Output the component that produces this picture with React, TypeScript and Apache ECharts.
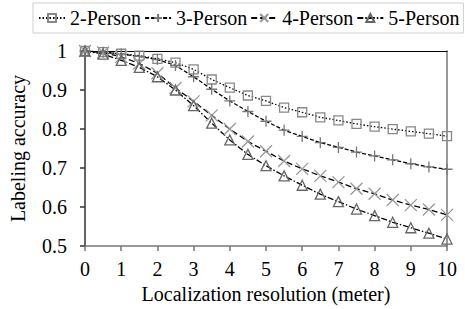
import React, { useEffect, useRef } from "react";
import * as echarts from "echarts";

const xValues = [0, 0.5, 1, 1.5, 2, 2.5, 3, 3.5, 4, 4.5, 5, 5.5, 6, 6.5, 7, 7.5, 8, 8.5, 9, 9.5, 10];
const person2 = [1.0, 0.997, 0.993, 0.988, 0.98, 0.97, 0.953, 0.927, 0.906, 0.886, 0.872, 0.855, 0.843, 0.83, 0.822, 0.813, 0.806, 0.8, 0.794, 0.788, 0.782];
const person3 = [1.0, 0.997, 0.992, 0.986, 0.978, 0.963, 0.934, 0.902, 0.872, 0.845, 0.82, 0.797, 0.781, 0.765, 0.753, 0.741, 0.731, 0.721, 0.711, 0.703, 0.697];
const person4 = [1.0, 0.996, 0.985, 0.968, 0.943, 0.905, 0.871, 0.835, 0.8, 0.768, 0.743, 0.718, 0.698, 0.68, 0.664, 0.647, 0.634, 0.618, 0.605, 0.594, 0.58];
const person5 = [1.0, 0.992, 0.976, 0.958, 0.934, 0.9, 0.86, 0.815, 0.772, 0.735, 0.706, 0.68, 0.656, 0.633, 0.614, 0.595, 0.578, 0.561, 0.547, 0.533, 0.518];
const seriesNames = ["2-Person", "3-Person", "4-Person", "5-Person"];

const FONT = "'Liberation Serif', 'Times New Roman', serif";

export default function App() {
  const ref = useRef<HTMLDivElement>(null);
  useEffect(() => {
    if (!ref.current) return;
    const chart = echarts.init(ref.current, undefined, { renderer: "svg" });
    const mk = (name: string, vals: number[], symbol: string, size: number, dash: number[], mcolor: string) => ({
      name,
      type: "line",
      data: xValues.map((x, i) => [x, vals[i]]),
      symbol,
      symbolSize: size,
      showAllSymbol: true,
      lineStyle: { color: "#000", width: 1.3, type: dash },
      itemStyle: { color: "rgba(0,0,0,0)", borderColor: mcolor, borderWidth: 1.3 },
      z: 3,
    });
    chart.setOption({
      animation: false,
      textStyle: { fontFamily: FONT },
      legend: {
        left: 33,
        top: 3,
        width: 480,
        padding: [5, 4, 5, 5],
        borderColor: "#cfcfcf",
        borderWidth: 1,
        itemWidth: 26,
        itemHeight: 10,
        itemGap: 3,
        textStyle: { fontFamily: FONT, fontSize: 20, color: "#000" },
        data: seriesNames,
      },
      grid: { left: 81, right: 18, top: 51, bottom: 62 },
      xAxis: [
        {
          type: "value",
          min: 0,
          max: 10,
          interval: 1,
          name: "Localization resolution (meter)",
          nameLocation: "middle",
          nameGap: 37,
          nameTextStyle: { fontFamily: FONT, fontSize: 20, color: "#000" },
          axisLine: { show: true, lineStyle: { color: "#777", width: 1.5 } },
          axisTick: { show: true, length: 5, lineStyle: { color: "#777", width: 1.5 } },
          axisLabel: { fontFamily: FONT, fontSize: 20, color: "#000", margin: 13 },
          splitLine: { show: false },
        },
        {
          type: "value",
          position: "top",
          min: 0,
          max: 10,
          axisLine: { show: true, onZero: false, lineStyle: { color: "#000", width: 1.2 } },
          axisTick: { show: false },
          axisLabel: { show: false },
          splitLine: { show: false },
        },
      ],
      yAxis: [
        {
          type: "value",
          min: 0.5,
          max: 1,
          interval: 0.1,
          name: "Labeling accuracy",
          nameLocation: "middle",
          nameGap: 57,
          nameTextStyle: { fontFamily: FONT, fontSize: 20, color: "#000" },
          axisLine: { show: true, lineStyle: { color: "#333", width: 1.5 } },
          axisTick: { show: true, length: 5, lineStyle: { color: "#333", width: 1.5 } },
          axisLabel: {
            fontFamily: FONT,
            fontSize: 20,
            color: "#000",
            margin: 18,
            formatter: (v: number) => (Math.abs(v - 1) < 1e-9 ? "1" : v.toFixed(1)),
          },
          splitLine: { show: false },
        },
        {
          type: "value",
          position: "right",
          min: 0.5,
          max: 1,
          axisLine: { show: true, onZero: false, lineStyle: { color: "#777", width: 1.5 } },
          axisTick: { show: false },
          axisLabel: { show: false },
          splitLine: { show: false },
        },
      ],
      series: [
        mk("2-Person", person2, "rect", 9, [1.5, 2], "#888"),
        mk("3-Person", person3, "path://M5,0 L5,10 M0,5 L10,5", 11, [4, 2], "#777"),
        mk("4-Person", person4, "path://M0,0 L10,10 M10,0 L0,10", 12, [6, 3], "#999"),
        mk("5-Person", person5, "triangle", 10, [6, 2, 1.5, 2], "#666"),
      ],
    });
    return () => chart.dispose();
  }, []);
  return <div ref={ref} style={{ width: 465, height: 309, position: "absolute", left: 0, top: 0 }} />;
}
